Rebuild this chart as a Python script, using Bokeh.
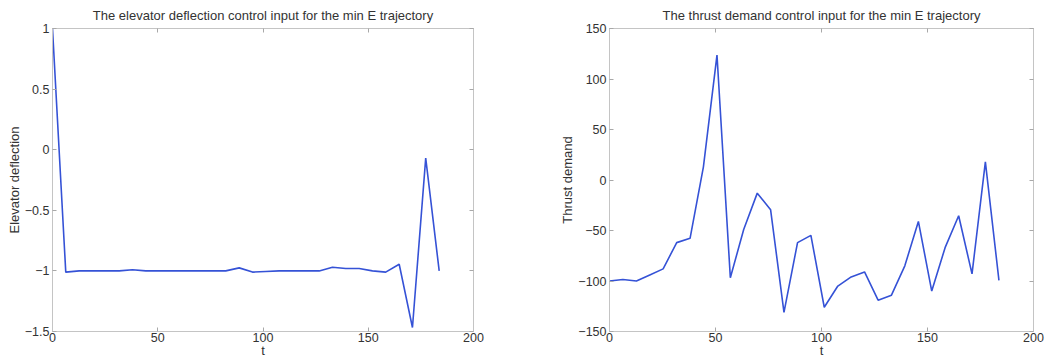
from bokeh.plotting import figure
from bokeh.layouts import row
from bokeh.models import LinearAxis, Range1d, FixedTicker
from bokeh.embed import file_html
from bokeh.resources import INLINE

# Sample times of the min E trajectory
t = [0.0, 6.3, 12.7, 19.0, 25.3, 31.7, 38.0, 44.3, 50.7, 57.0,
     63.3, 69.7, 76.0, 82.3, 88.7, 95.0, 101.3, 107.7, 114.0, 120.3,
     126.7, 133.0, 139.3, 145.7, 152.0, 158.3, 164.7, 171.0, 177.3, 183.7]

# Elevator deflection control input
elevator = [1.0, -1.01, -1.0, -1.0, -1.0, -1.0, -0.99, -1.0, -1.0, -1.0,
            -1.0, -1.0, -1.0, -1.0, -0.975, -1.01, -1.005, -1.0, -1.0, -1.0,
            -1.0, -0.97, -0.98, -0.98, -1.0, -1.01, -0.945, -1.467, -0.07, -1.0]

# Thrust demand control input
thrust = [-100, -98.5, -100, -94, -88, -62, -57.7, 13, 123.7, -96.8,
          -49, -13, -29.5, -131, -62, -54.8, -126, -105, -96, -91,
          -119, -114, -85, -41, -110, -67, -35.4, -93, 18, -99.4]

x_ticks = [0, 50, 100, 150, 200]
elev_ticks = [-1.5, -1, -0.5, 0, 0.5, 1]
thrust_ticks = [-150, -100, -50, 0, 50, 100, 150]

FONT = "Liberation Sans"
AXIS_GRAY = "#c4c4c4"
TEXT = "#333333"
LINE = "#3552d6"


def style_axis(ax, ticks, show_labels):
    ax.ticker = FixedTicker(ticks=ticks)
    ax.axis_line_color = AXIS_GRAY
    ax.major_tick_line_color = "#a8a8a8"
    ax.major_tick_in = 4
    ax.major_tick_out = 0
    ax.minor_tick_line_color = None
    ax.major_label_text_font = FONT
    ax.major_label_text_font_size = "12.5px"
    ax.major_label_text_color = TEXT
    ax.major_label_standoff = 3
    ax.axis_label_text_font = FONT
    ax.axis_label_text_font_size = "13px"
    ax.axis_label_text_font_style = "normal"
    ax.axis_label_text_color = TEXT
    ax.axis_label_standoff = 0
    if not show_labels:
        # box edge: ticks only, no numbers
        ax.major_label_overrides = {v: "" for v in ticks}
        ax.major_label_standoff = 0


def make_panel(title, ylabel, y, yr, yticks, width, left, right):
    p = figure(width=width, height=360, output_backend="svg",
               toolbar_location=None, title=title,
               x_range=Range1d(0, 200), y_range=Range1d(*yr),
               min_border_left=left, min_border_right=right,
               min_border_top=28, min_border_bottom=28)
    p.title.text_font = FONT
    p.title.text_font_size = "13px"
    p.title.text_font_style = "normal"
    p.title.text_color = TEXT
    p.title.align = "center"
    p.title.vertical_align = "top"
    p.title.standoff = 8
    p.grid.visible = False
    p.outline_line_color = AXIS_GRAY
    p.background_fill_color = "white"
    p.border_fill_color = "white"

    style_axis(p.xaxis[0], x_ticks, True)
    style_axis(p.yaxis[0], yticks, True)
    p.xaxis[0].axis_label = "t"
    p.xaxis[0].major_label_standoff = 1
    p.xaxis[0].axis_label_standoff = -2
    p.yaxis[0].axis_label = ylabel

    top = LinearAxis()
    style_axis(top, x_ticks, False)
    rgt = LinearAxis()
    style_axis(rgt, yticks, False)
    p.add_layout(top, "above")
    p.add_layout(rgt, "right")

    p.line(t, y, line_color=LINE, line_width=1.6)
    return p


p1 = make_panel("The elevator deflection control input for the min E trajectory",
                "Elevator deflection", elevator, (-1.5, 1), elev_ticks,
                527, 52, 54)
p2 = make_panel("The thrust demand control input for the min E trajectory",
                "Thrust demand", thrust, (-150, 150), thrust_ticks,
                530, 82, 24)

layout = row(p1, p2)
open("out.html", "w").write(file_html(layout, INLINE))
